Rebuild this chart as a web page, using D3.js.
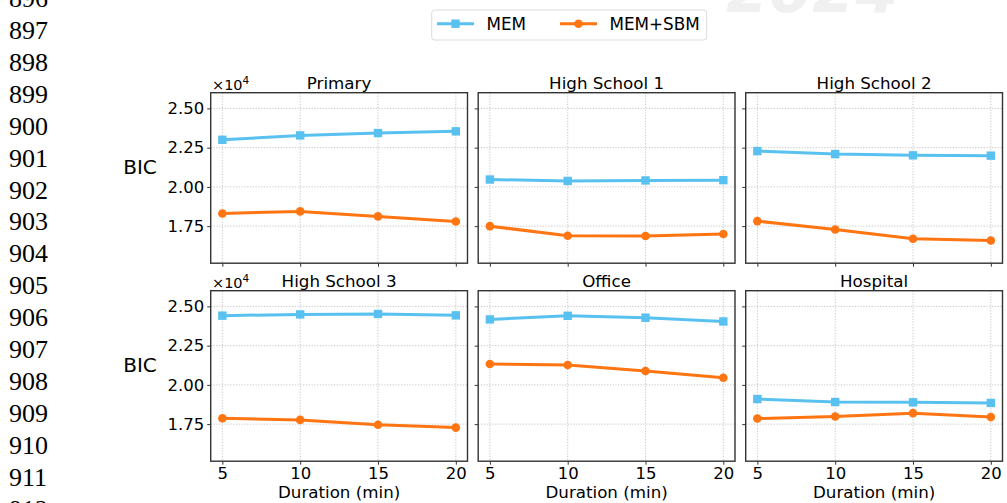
<!DOCTYPE html>
<html lang="en">
<head>
<meta charset="UTF-8">
<title>BIC vs duration</title>
<script src="https://cdn.jsdelivr.net/npm/d3@7"></script>
<style>
  body { margin: 0; background: #fff; }
  svg { display: block; }
  text { font-family: "DejaVu Sans", sans-serif; fill: #000; }
</style>
</head>
<body>
<svg id="chart" width="1007" height="503"></svg>
<script>
// data (BIC values)
var durations = [5, 10, 15, 20];
var datasets = ["Primary", "High School 1", "High School 2", "High School 3", "Office", "Hospital"];
var memBIC = [
  [23000, 23280, 23430, 23540],
  [20470, 20380, 20410, 20430],
  [22280, 22090, 22010, 21990],
  [24410, 24490, 24520, 24430],
  [24170, 24400, 24280, 24040],
  [19100, 18910, 18890, 18850]
];
var sbmBIC = [
  [18310, 18440, 18120, 17800],
  [17500, 16890, 16870, 17000],
  [17820, 17290, 16700, 16590],
  [17880, 17770, 17460, 17280],
  [21330, 21270, 20890, 20460],
  [17860, 17990, 18200, 17950]
];
var yTicks = [17500, 20000, 22500, 25000];
var seriesNames = ["MEM", "MEM+SBM"];
var lineNumbers = d3.range(896, 913);

var blue = "#58C1F0", orange = "#FF7512";
var svg = d3.select("#chart");

// faint watermark at the top, mostly cut off
svg.append("text")
  .attr("x", 726).attr("y", 12)
  .style("font-size", "62px").style("font-weight", "bold").style("font-style", "italic")
  .style("fill", "#f0f0f0")
  .text("2024");

// line numbers down the left margin
svg.selectAll(".ln").data(lineNumbers).enter().append("text")
  .attr("class", "ln")
  .attr("x", 9)
  .attr("y", function(d) { return 39 + (d - 897) * 31.9; })
  .style("font-family", "'Liberation Serif', serif")
  .style("font-size", "26px")
  .text(function(d) { return d; });

var colX = [210.7, 478.2, 745.7], rowY = [92.7, 290.7];
var pw = 256.8, ph = 170.5;

var x = d3.scaleLinear().domain([4.25, 20.75]).range([0, pw]);
var y = d3.scaleLinear().domain([15140, 26000]).range([ph, 0]);

datasets.forEach(function(name, i) {
  var c = i % 3, r = Math.floor(i / 3);
  var g = svg.append("g").attr("transform", "translate(" + colX[c] + "," + rowY[r] + ")");

  // grid
  g.selectAll(".gx").data(durations).enter().append("line")
    .attr("x1", function(d) { return x(d); }).attr("x2", function(d) { return x(d); })
    .attr("y1", 0).attr("y2", ph)
    .attr("stroke", "#b8b8b8").attr("stroke-width", 0.8).attr("stroke-dasharray", "1.2,1.6");
  g.selectAll(".gy").data(yTicks).enter().append("line")
    .attr("y1", function(d) { return y(d); }).attr("y2", function(d) { return y(d); })
    .attr("x1", 0).attr("x2", pw)
    .attr("stroke", "#b8b8b8").attr("stroke-width", 0.8).attr("stroke-dasharray", "1.2,1.6");

  // axes
  var ax = d3.axisBottom(x).tickValues(durations).tickSize(3.5).tickPadding(3)
    .tickFormat(r === 1 ? d3.format("d") : function() { return ""; });
  var gx = g.append("g").attr("transform", "translate(0," + ph + ")").call(ax);
  var ay = d3.axisLeft(y).tickValues(yTicks).tickSize(3.5).tickPadding(3)
    .tickFormat(c === 0 ? function(d) { return (d / 1e4).toFixed(2); } : function() { return ""; });
  var gy = g.append("g").call(ay);
  [gx, gy].forEach(function(a) {
    a.select(".domain").remove();
    a.selectAll(".tick line").attr("stroke", "#333").attr("stroke-width", 1);
    a.selectAll(".tick text").style("font-family", "'DejaVu Sans', sans-serif").style("font-size", "16.5px").attr("fill", "#000");
  });

  // series
  var line = d3.line().x(function(d, k) { return x(durations[k]); }).y(function(d) { return y(d); });
  g.append("path").datum(memBIC[i]).attr("d", line)
    .attr("fill", "none").attr("stroke", blue).attr("stroke-width", 3);
  g.selectAll(".sq").data(memBIC[i]).enter().append("rect")
    .attr("x", function(d, k) { return x(durations[k]) - 4.2; })
    .attr("y", function(d) { return y(d) - 4.2; })
    .attr("width", 8.4).attr("height", 8.4).attr("fill", blue);
  g.append("path").datum(sbmBIC[i]).attr("d", line)
    .attr("fill", "none").attr("stroke", orange).attr("stroke-width", 3);
  g.selectAll(".ci").data(sbmBIC[i]).enter().append("circle")
    .attr("cx", function(d, k) { return x(durations[k]); })
    .attr("cy", function(d) { return y(d); })
    .attr("r", 4.3).attr("fill", orange);

  // frame
  g.append("rect").attr("width", pw).attr("height", ph)
    .attr("fill", "none").attr("stroke", "#333").attr("stroke-width", 1.4);

  // title
  g.append("text").attr("x", pw / 2).attr("y", -3.7).attr("text-anchor", "middle")
    .style("font-size", "16.7px").text(name);

  if (c === 0) {
    var off = g.append("text").attr("x", 1.3).attr("y", -3).style("font-size", "14.5px");
    off.append("tspan").text("\u00d710");
    off.append("tspan").attr("dy", -6).style("font-size", "10.5px").text("4");
    svg.append("text").attr("x", 140).attr("y", rowY[r] + 81.5).attr("text-anchor", "middle")
      .style("font-size", "20px").text("BIC");
  }
  if (r === 1) {
    g.append("text").attr("x", pw / 2).attr("y", ph + 37).attr("text-anchor", "middle")
      .style("font-size", "16.7px").text("Duration (min)");
  }
});

// legend
var lg = svg.append("g");
lg.append("rect").attr("x", 431.7).attr("y", 10).attr("width", 275).attr("height", 30).attr("rx", 3)
  .attr("fill", "#fff").attr("stroke", "#dcdcdc").attr("stroke-width", 1);
var legendX = [437, 560];
seriesNames.forEach(function(s, k) {
  var col = k === 0 ? blue : orange;
  lg.append("line").attr("x1", legendX[k]).attr("x2", legendX[k] + 37).attr("y1", 23.7).attr("y2", 23.7)
    .attr("stroke", col).attr("stroke-width", 3);
  if (k === 0) {
    lg.append("rect").attr("x", legendX[k] + 18.5 - 4.2).attr("y", 23.7 - 4.2).attr("width", 8.4).attr("height", 8.4).attr("fill", col);
  } else {
    lg.append("circle").attr("cx", legendX[k] + 18.5).attr("cy", 23.7).attr("r", 4.3).attr("fill", col);
  }
  lg.append("text").attr("x", legendX[k] + 49.5).attr("y", 30).style("font-size", "16.8px").text(s);
});
</script>
</body>
</html>
